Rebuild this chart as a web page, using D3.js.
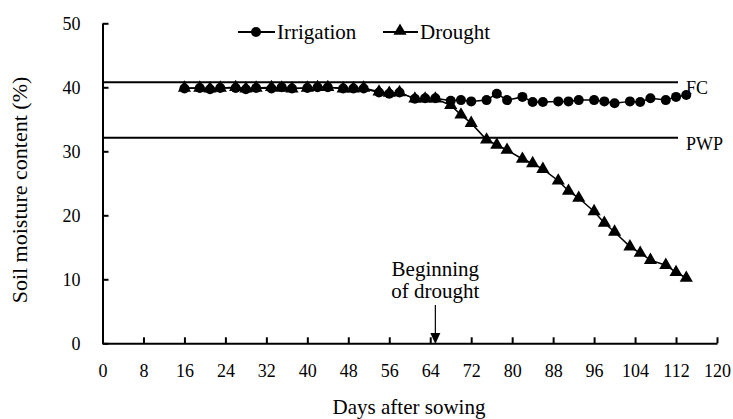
<!DOCTYPE html>
<html><head><meta charset="utf-8">
<script src="https://cdn.jsdelivr.net/npm/d3@7"></script>
<style>body{margin:0;background:#fff}svg{display:block}text{font-family:"Liberation Serif","Times New Roman",serif;fill:#000}</style>
</head><body>
<svg id="c" width="733" height="419"></svg>
<script>
const days = [16,19,21,23,26,28,30,33,35,37,40,42,44,47,49,51,54,56,58,61,63,65,68,70,72,75,77,79,82,84,86,89,91,93,96,98,100,103,105,107,110,112,114];
const irrigation = [39.8,39.9,39.7,39.9,39.9,39.7,39.9,39.8,40.0,39.8,39.9,40.0,40.0,39.8,39.8,39.8,39.2,39.0,39.2,38.2,38.3,38.3,37.9,38.0,37.8,38.0,39.0,38.0,38.5,37.7,37.7,37.8,37.8,38.0,38.0,37.8,37.5,37.8,37.7,38.3,38.0,38.5,38.8];
const drought = [39.9,39.9,39.8,39.9,40.0,39.8,39.9,40.0,39.9,39.8,39.9,40.0,40.0,39.8,39.8,39.9,39.3,39.1,39.2,38.2,38.2,38.2,37.2,35.7,34.4,31.8,31.0,30.2,28.8,28.1,27.2,25.4,23.8,22.7,20.6,18.8,17.4,15.1,14.1,13.0,12.2,11.1,10.2];
const xTicks = [0,8,16,24,32,40,48,56,64,72,80,88,96,104,112,120];
const yTicks = [0,10,20,30,40,50];
const refLines = [{label:"FC", value:40.8},{label:"PWP", value:32.1}];
const droughtStart = 65;
const seriesNames = ["Irrigation","Drought"];

const svg = d3.select("#c");
const x = d3.scaleLinear().domain([0,120]).range([102.5,717]);
const y = d3.scaleLinear().domain([0,50]).range([343.3,23.3]);

// axes
const gx = svg.append("g").attr("transform",`translate(0,${y(0)})`)
  .call(d3.axisBottom(x).tickValues(xTicks).tickSizeInner(-6).tickSizeOuter(0).tickPadding(21));
const gy = svg.append("g").attr("transform",`translate(${x(0)},0)`)
  .call(d3.axisLeft(y).tickValues(yTicks).tickSizeInner(-6).tickSizeOuter(0).tickPadding(22));
[gx,gy].forEach(g=>{
  g.select(".domain").attr("stroke","#000").attr("stroke-width",2);
  g.selectAll(".tick line").attr("stroke","#000").attr("stroke-width",2);
  g.selectAll("text").attr("font-family","Liberation Serif").attr("font-size",18).attr("fill","#000");
});
gy.selectAll("text").attr("dy","0.35em");

// reference lines
refLines.forEach(r=>{
  svg.append("line").attr("x1",x(0)).attr("x2",678).attr("y1",y(r.value)).attr("y2",y(r.value))
    .attr("stroke","#000").attr("stroke-width",2);
  svg.append("text").attr("x",686).attr("y",y(r.value)+6).attr("dy","0.35em").attr("font-size",18).text(r.label);
});

// series
const line = d3.line().x((d,i)=>x(days[i])).y(d=>y(d));
svg.append("path").datum(irrigation).attr("d",line).attr("fill","none").attr("stroke","#000").attr("stroke-width",1.5);
svg.append("path").datum(drought).attr("d",line).attr("fill","none").attr("stroke","#000").attr("stroke-width",1.5);
const tri = d3.symbol().type(d3.symbolTriangle).size(75);
svg.append("g").selectAll("path").data(drought).join("path")
  .attr("d",tri).attr("transform",(d,i)=>`translate(${x(days[i])},${y(d)})`).attr("fill","#000");
svg.append("g").selectAll("circle").data(irrigation).join("circle")
  .attr("cx",(d,i)=>x(days[i])).attr("cy",d=>y(d)).attr("r",5).attr("fill","#000");

// legend
const lg = svg.append("g");
lg.append("line").attr("x1",238).attr("x2",275).attr("y1",32).attr("y2",32).attr("stroke","#000").attr("stroke-width",2);
lg.append("circle").attr("cx",256).attr("cy",32).attr("r",5).attr("fill","#000");
lg.append("text").attr("x",277).attr("y",32).attr("dy","0.35em").attr("font-size",21).text(seriesNames[0]);
lg.append("line").attr("x1",383).attr("x2",418).attr("y1",32).attr("y2",32).attr("stroke","#000").attr("stroke-width",2);
lg.append("path").attr("d",tri).attr("transform","translate(400,31)").attr("fill","#000");
lg.append("text").attr("x",420).attr("y",32).attr("dy","0.35em").attr("font-size",21).text(seriesNames[1]);

// annotation
const ax = x(droughtStart);
svg.append("text").attr("x",ax).attr("y",276).attr("text-anchor","middle").attr("font-size",21).text("Beginning");
svg.append("text").attr("x",ax).attr("y",298).attr("text-anchor","middle").attr("font-size",21).text("of drought");
svg.append("line").attr("x1",ax).attr("x2",ax).attr("y1",305).attr("y2",335).attr("stroke","#000").attr("stroke-width",1.2);
svg.append("path").attr("d",`M${ax-5},333 L${ax+5},333 L${ax},344 Z`).attr("fill","#000");

// titles
svg.append("text").attr("x",409).attr("y",414).attr("text-anchor","middle").attr("font-size",21).text("Days after sowing");
svg.append("text").attr("transform",`translate(27,190) rotate(-90)`).attr("text-anchor","middle").attr("font-size",22).text("Soil moisture content (%)");
</script>
</body></html>
